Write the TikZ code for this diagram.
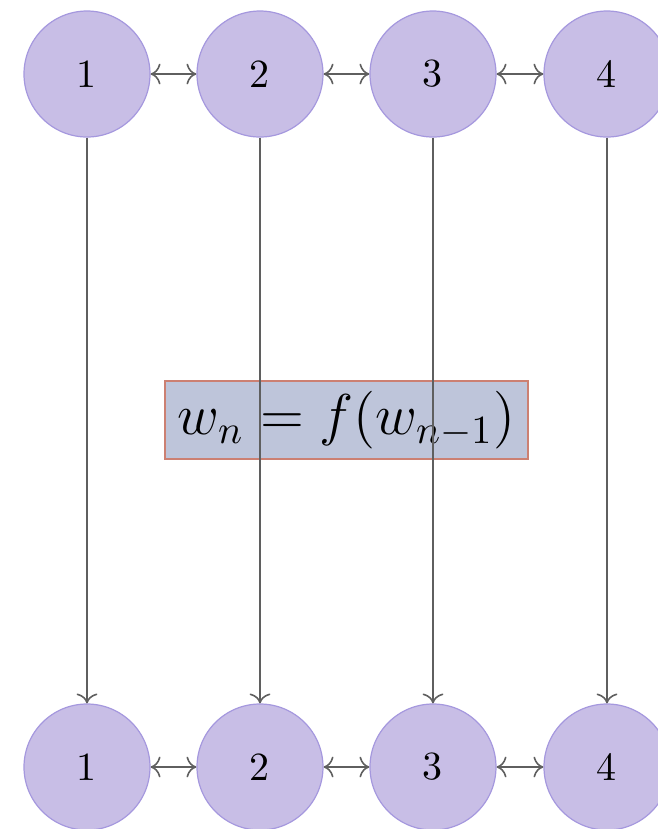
\documentclass[tikz,border=0pt]{standalone}
\usetikzlibrary{arrows.meta}
\definecolor{cfill}{RGB}{200,190,230}
\definecolor{cdraw}{RGB}{165,152,222}
\definecolor{bfill}{RGB}{190,197,218}
\definecolor{bdraw}{RGB}{204,128,114}
\definecolor{ln}{RGB}{95,95,95}
\tikzset{
  vert/.style={circle, fill=cfill, draw=cdraw, line width=0.3pt, minimum size=31.5pt, inner sep=0pt, font=\normalsize},
  formula/.style={rectangle, fill=bfill, draw=bdraw, line width=0.4pt, minimum width=90.75pt, minimum height=19.5pt, inner sep=1pt, font=\Large},
  conn/.style={draw=ln, line width=0.4pt}
}
\begin{document}
\begin{tikzpicture}[x=0.25pt,y=-0.25pt]
\useasboundingbox (0,0) rectangle (657,829);
\node[formula] (f) at (346.5,420) {$w_n = f(w_{n-1})$};
\foreach \i/\x in {1/87,2/260,3/433,4/607}{
  \node[vert] (t\i) at (\x,74) {\i};
  \node[vert] (b\i) at (\x,767) {\i};
}
\foreach \a/\b in {1/2,2/3,3/4}{
  \draw[conn,<->] (t\a) -- (t\b);
  \draw[conn,<->] (b\a) -- (b\b);
}
\foreach \i in {1,2,3,4}{
  \draw[conn,->] (t\i) -- (b\i);
}
\end{tikzpicture}
\end{document}
